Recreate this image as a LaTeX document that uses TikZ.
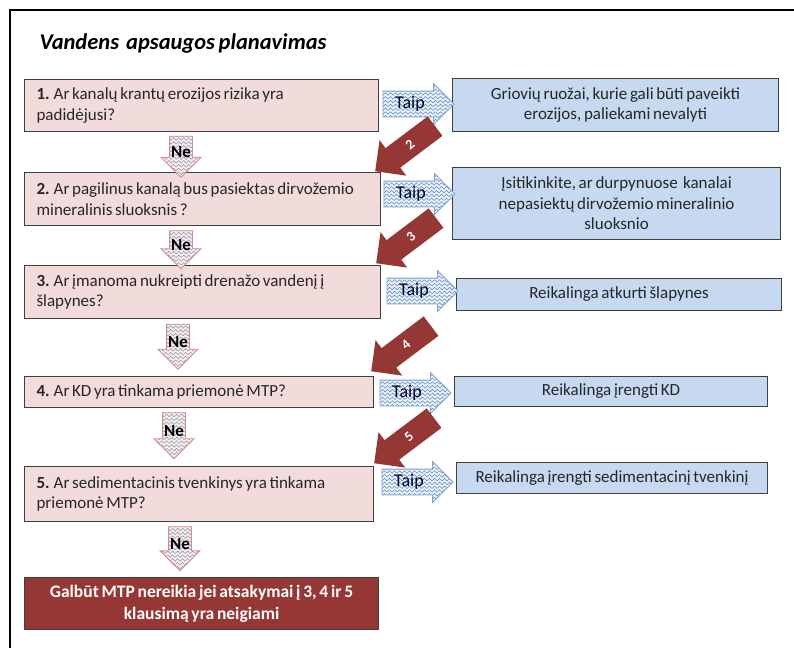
\documentclass[tikz,border=0pt]{standalone}
\usepackage{fontspec}
\setmainfont{Carlito}[WordSpace=0.7]
\usetikzlibrary{shapes.arrows,decorations.pathmorphing}
\definecolor{qpink}{HTML}{F2DCDB}
\definecolor{ablue}{HTML}{C6D9F1}
\definecolor{dred}{HTML}{953735}
\definecolor{bordg}{HTML}{3F3F3F}
\definecolor{txtg}{HTML}{262626}
\definecolor{taipline}{HTML}{7FA1CF}
\definecolor{taipfill}{HTML}{EEF3FA}
\definecolor{taipwave}{HTML}{5B8BC5}
\definecolor{neline}{HTML}{D38C8A}
\definecolor{nefill}{HTML}{FAEDED}
\definecolor{newave}{HTML}{8A9AB0}
\begin{document}
\begin{tikzpicture}[x=1pt,y=-1pt,
  every node/.style={font=\fontsize{17}{20.5}\selectfont, text=txtg},
  qbox/.style={draw=bordg, line width=1.1pt, fill=qpink, anchor=north west,
    inner xsep=12pt, inner ysep=2pt, align=flush left},
  abox/.style={draw=bordg, line width=1.1pt, fill=ablue, anchor=north west,
    inner xsep=6pt, inner ysep=2pt, align=flush center},
  waves/.style={path picture={
    \foreach \k in {0,...,13}{
      \draw[#1, line width=0.55pt, decorate,
        decoration={snake, amplitude=1.3pt, segment length=5pt}]
        ([yshift=-\k*3.8pt+1pt, xshift=-4pt]path picture bounding box.north west)
        -- ([yshift=-\k*3.8pt+1pt, xshift=4pt]path picture bounding box.north east);
    }}},
  taip/.style={single arrow, draw=taipline, line width=0.8pt, fill=taipfill,
    minimum height=71pt, minimum width=40pt, single arrow head extend=7.5pt,
    inner xsep=0pt, inner ysep=6pt, text height=10pt, text depth=3pt,
    waves=taipwave},
  taiptext/.style={font=\fontsize{18}{20}\selectfont, text=black!80!blue},
  nearrow/.style={single arrow, shape border rotate=270, draw=neline, line width=0.8pt,
    fill=nefill, minimum height=#1, minimum width=39pt, single arrow head extend=8.5pt,
    inner xsep=2pt, inner ysep=2pt, text width=18pt, waves=newave},
  netext/.style={font=\bfseries\fontsize{17}{19}\selectfont, text=black},
  redarrow/.style={single arrow, fill=dred, draw=none, rotate=#1,
    minimum height=75pt, minimum width=44pt, single arrow head extend=10pt,
    inner xsep=0pt, inner ysep=12pt},
  rednum/.style={font=\bfseries\fontsize{14}{16}\selectfont, text=white, rotate=40}
]
\useasboundingbox (0,0) rectangle (794,648);
\draw[line width=2pt, black] (794,10) -- (10,10) -- (10,648);

\node[anchor=west, font=\bfseries\itshape\fontsize{22.5}{26}\selectfont, text=black]
  (title) at (36,43) {Vandens\ \ apsaugos planavimas};

% question boxes
\node[qbox, minimum width=354pt, text width=330pt, minimum height=52pt] (q1) at (24,79)
  {\textbf{1.} Ar kanalų krantų erozijos rizika yra\\ padidėjusi?};
\node[qbox, minimum width=356pt, text width=332pt, minimum height=53pt] (q2) at (24,172)
  {\textbf{2.} Ar pagilinus kanalą bus pasiektas dirvožemio\\ mineralinis sluoksnis ?};
\node[qbox, minimum width=356pt, text width=332pt, minimum height=53pt] (q3) at (24,265)
  {\textbf{3.} Ar įmanoma nukreipti drenažo vandenį į\\ šlapynes?};
\node[qbox, minimum width=349pt, text width=325pt, minimum height=31pt] (q4) at (24,376)
  {\textbf{4.} Ar KD yra tinkama priemonė MTP?};
\node[qbox, minimum width=349pt, text width=325pt, minimum height=55pt] (q5) at (24,466)
  {\textbf{5.} Ar sedimentacinis tvenkinys yra tinkama\\ priemonė MTP?};
\node[draw=bordg, line width=1.1pt, fill=dred, anchor=north west, align=flush center,
  minimum width=354pt, minimum height=52pt, text width=340pt, text=white,
  font=\bfseries\fontsize{17.5}{22}\selectfont] (end) at (24,577)
  {Galbūt MTP nereikia jei atsakymai į 3, 4 ir 5\\ klausimą yra neigiami};

% answer boxes
\node[abox, minimum width=326pt, text width=312pt, minimum height=53pt] (a1) at (452,78)
  {Griovių ruožai, kurie gali būti paveikti\\ erozijos, paliekami nevalyti};
\node[abox, minimum width=328pt, text width=314pt, minimum height=72pt] (a2) at (452,167)
  {Įsitikinkite, ar durpynuose\ \ kanalai\\ nepasiektų dirvožemio mineralinio\\ sluoksnio};
\node[abox, minimum width=325pt, text width=311pt, minimum height=32pt] (a3) at (456,278)
  {Reikalinga atkurti šlapynes};
\node[abox, minimum width=313pt, text width=299pt, minimum height=30pt] (a4) at (454,376)
  {Reikalinga įrengti KD};
\node[abox, minimum width=311pt, text width=297pt, minimum height=31pt] (a5) at (456,462)
  {Reikalinga įrengti sedimentacinį tvenkinį};

% Taip arrows
\node[taip] (t1) at (412,104) {};
\node[taip] (t2) at (413,194) {};
\node[taip] (t3) at (416,291) {};
\node[taip] (t4) at (409,393) {};
\node[taip] (t5) at (411,482) {};
\foreach \i in {1,...,5}{\node[taiptext] (tt\i) at ([xshift=-2pt]t\i.center) {Taip};}

% Ne arrows
\node[nearrow=41pt] (n1) at (181,151) {};
\node[nearrow=38pt] (n2) at (181,244) {};
\node[nearrow=45pt] (n3) at (178,341) {};
\node[nearrow=46pt] (n4) at (174,430) {};
\node[nearrow=44pt] (n5) at (180,543) {};
\foreach \i in {1,...,5}{\node[netext] (nt\i) at ([yshift=-1pt]n\i.center) {Ne};}

% red step arrows
\node[redarrow=217] (r2) at (410,145) {};
\node[redarrow=217] (r3) at (411,237) {};
\node[redarrow=217] (r4) at (406,345) {};
\node[redarrow=217] (r5) at (409,437) {};
\node[rednum] (l2) at (r2.center) {2};
\node[rednum] (l3) at (r3.center) {3};
\node[rednum] (l4) at (r4.center) {4};
\node[rednum] (l5) at (r5.center) {5};
\end{tikzpicture}
\end{document}
